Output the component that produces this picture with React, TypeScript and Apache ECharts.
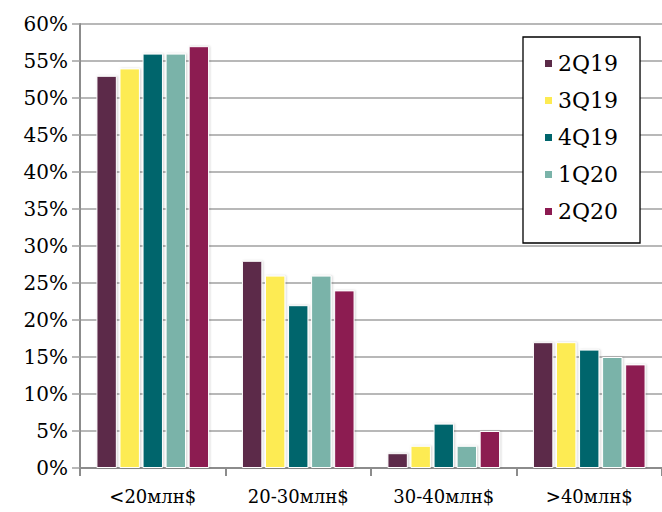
import React, { useEffect, useRef } from "react";
import * as echarts from "echarts";

const categories = ["<20млн$", "20-30млн$", "30-40млн$", ">40млн$"];
const seriesNames = ["2Q19", "3Q19", "4Q19", "1Q20", "2Q20"];
const seriesColors = ["#5B2A48", "#FDEB52", "#00656C", "#7AB3A9", "#8C1A51"];
const values2Q19 = [53, 28, 2, 17];
const values3Q19 = [54, 26, 3, 17];
const values4Q19 = [56, 22, 6, 16];
const values1Q20 = [56, 26, 3, 15];
const values2Q20 = [57, 24, 5, 14];
const seriesValues = [values2Q19, values3Q19, values4Q19, values1Q20, values2Q20];

const FONT = "DejaVu Serif";

export default function App() {
  const ref = useRef<HTMLDivElement>(null);
  useEffect(() => {
    if (!ref.current) return;
    document.body.style.margin = "0";
    const chart = echarts.init(ref.current, undefined, { renderer: "svg" });
    chart.setOption({
      animation: false,
      backgroundColor: "#ffffff",
      textStyle: { fontFamily: FONT, color: "#000" },
      grid: { left: 80, right: 0, top: 24, bottom: 44, containLabel: false },
      legend: {
        orient: "vertical",
        left: 523,
        top: 37,
        itemWidth: 9,
        itemHeight: 9,
        itemGap: 12,
        padding: [14, 22, 19, 20],
        borderColor: "#000",
        borderWidth: 1.3,
        backgroundColor: "#fff",
        icon: "rect",
        textStyle: { fontFamily: FONT, fontSize: 22, color: "#000", lineHeight: 25 },
        data: seriesNames,
      },
      xAxis: {
        type: "category",
        data: categories,
        axisLine: { show: true, lineStyle: { color: "#8c8c8c", width: 2 } },
        axisTick: { show: true, alignWithLabel: false, length: 8, lineStyle: { color: "#8c8c8c", width: 2 } },
        axisLabel: { fontFamily: FONT, fontSize: 18, color: "#000", margin: 19 },
        splitLine: { show: false },
      },
      yAxis: {
        type: "value",
        min: 0,
        max: 60,
        interval: 5,
        axisLine: { show: true, lineStyle: { color: "#8c8c8c", width: 2 } },
        axisTick: { show: true, length: 8, lineStyle: { color: "#a0a0a0", width: 1.5 } },
        axisLabel: { fontFamily: FONT, fontSize: 20, color: "#000", margin: 12, formatter: "{value}%" },
        splitLine: { show: true, lineStyle: { color: "#a0a0a0", width: 1.5 } },
      },
      series: seriesNames.map((name, i) => ({
        name,
        type: "bar",
        data: seriesValues[i],
        barGap: "13%",
        barCategoryGap: "22.6%",
        itemStyle: {
          color: seriesColors[i],
          borderColor: "#ffffff",
          borderWidth: 1,
          shadowColor: "rgba(0,0,0,0.18)",
          shadowBlur: 2,
          shadowOffsetX: 1,
          shadowOffsetY: 0,
        },
      })),
    });
    return () => chart.dispose();
  }, []);
  return <div ref={ref} style={{ width: 662, height: 512 }} />;
}
